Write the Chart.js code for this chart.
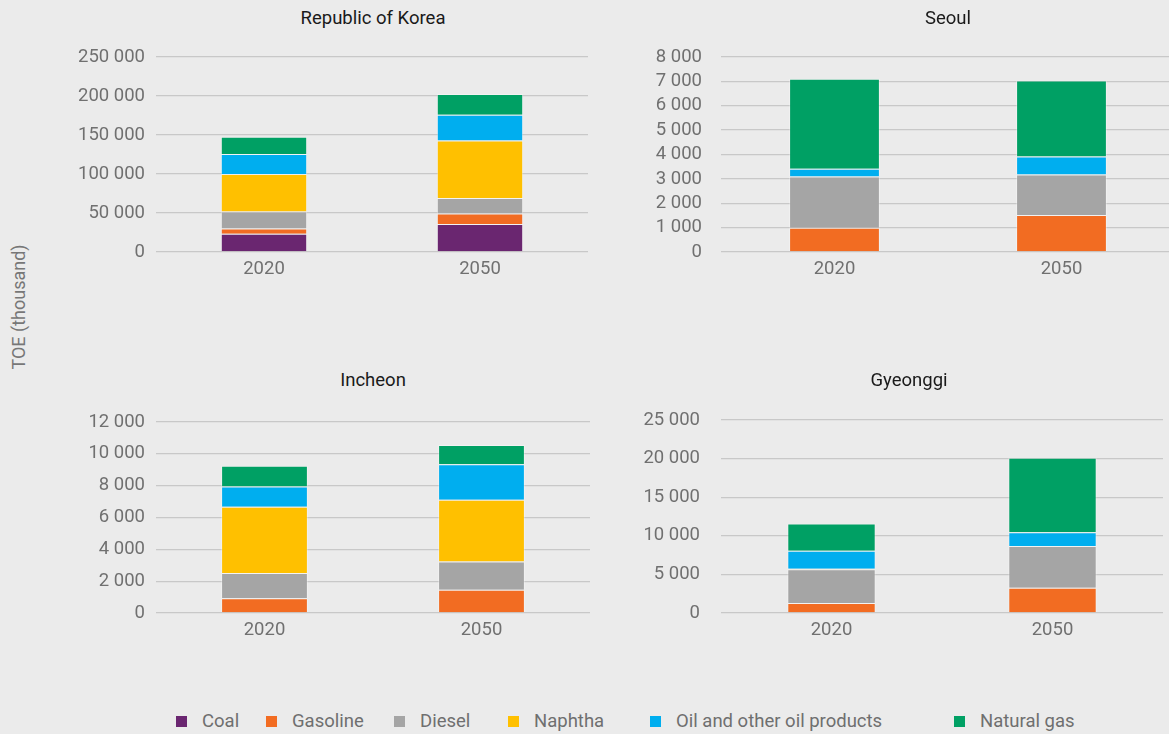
<!DOCTYPE html>
<html>
<head>
<meta charset="utf-8">
<script src="https://cdn.jsdelivr.net/npm/chart.js@4.4.0/dist/chart.umd.min.js"></script>
<style>
  html, body {
    margin: 0;
    padding: 0;
    background: #ebebeb;
    width: 1169px;
    height: 734px;
    overflow: hidden;
    position: relative;
    font-family: Roboto, sans-serif;
  }
  canvas { position: absolute; }
  .title {
    position: absolute;
    transform: translate(-50%, -50%);
    font-size: 18.5px;
    color: #1a1a1a;
    white-space: nowrap;
  }
  .ylabel {
    position: absolute;
    left: 18px;
    top: 307px;
    transform: translate(-50%, -50%) rotate(-90deg);
    font-size: 18px;
    color: #777777;
    white-space: nowrap;
  }
  .lg-box {
    position: absolute;
    width: 11px;
    height: 11px;
    top: 716px;
  }
  .lg-text {
    position: absolute;
    top: 720.5px;
    transform: translateY(-50%);
    font-size: 18.5px;
    color: #6f6f6f;
    white-space: nowrap;
  }
</style>
</head>
<body>
<div class="ylabel">TOE (thousand)</div>

<script>
const years = ['2020', '2050'];
const fuels = ['Coal', 'Gasoline', 'Diesel', 'Naphtha', 'Oil and other oil products', 'Natural gas'];
const fuelColors = ['#6a2670', '#f26c22', '#a5a5a5', '#ffc000', '#00aeef', '#00a064'];

// values per fuel, in the order of the fuels list
const korea2020 = [23500, 6700, 21800, 48000, 25600, 22200];
const korea2050 = [35900, 13600, 19700, 73900, 32900, 26600];
const seoul2020 = [0, 1000, 2100, 0, 320, 3690];
const seoul2050 = [0, 1520, 1660, 0, 740, 3120];
const incheon2020 = [0, 925, 1585, 4165, 1265, 1315];
const incheon2050 = [0, 1460, 1770, 3890, 2220, 1220];
const gyeonggi2020 = [0, 1300, 4370, 50, 2330, 3540];
const gyeonggi2050 = [0, 3280, 5410, 0, 1780, 9630];

// y axis ticks
const yMax = [250000, 8000, 12000, 25000];
const yStep = [50000, 1000, 2000, 5000];

// layout of the four panels (plot left, right, top, bottom)
const panels = [
  { title: 'Republic of Korea', a: korea2020, b: korea2050, plot: [156, 588, 57, 252], tickPad: 11, titleX: 373, titleY: 18 },
  { title: 'Seoul', a: seoul2020, b: seoul2050, plot: [721, 1175, 57, 252], tickPad: 19, titleX: 948, titleY: 18 },
  { title: 'Incheon', a: incheon2020, b: incheon2050, plot: [156, 590, 422, 613], tickPad: 11, titleX: 373, titleY: 380 },
  { title: 'Gyeonggi', a: gyeonggi2020, b: gyeonggi2050, plot: [721, 1163, 420, 613], tickPad: 21, titleX: 909, titleY: 380 }
];

const legendX = [176, 266, 394, 508, 650, 954];

const tickColor = '#707070';
const tickFont = { family: 'Roboto', size: 18.5 };

// thousands separated by a space: 250 000
function formatTick(v) {
  return String(v).replace(/\B(?=(\d{3})+(?!\d))/g, ' ');
}

function makeChart(p, idx) {
  const axisW = 110, axisH = 45;
  // Chart.js pads the top by half a label plus the tick padding
  const padTop = Math.ceil(tickFont.size * 0.6 + p.tickPad);
  const L = p.plot[0] - axisW;
  const T = p.plot[2] - padTop;
  const W = p.plot[1] - L;
  const H = p.plot[3] + axisH - T;

  const c = document.createElement('canvas');
  c.width = W;
  c.height = H;
  c.style.left = L + 'px';
  c.style.top = T + 'px';
  c.style.width = W + 'px';
  c.style.height = H + 'px';
  document.body.appendChild(c);

  const t = document.createElement('div');
  t.className = 'title';
  t.textContent = p.title;
  t.style.left = p.titleX + 'px';
  t.style.top = p.titleY + 'px';
  document.body.appendChild(t);

  new Chart(c, {
    type: 'bar',
    data: {
      labels: years,
      datasets: fuels.map((f, i) => ({
        label: f,
        data: [p.a[i], p.b[i]],
        backgroundColor: fuelColors[i],
        borderColor: 'rgba(255,255,255,0.35)',
        borderWidth: 1,
        categoryPercentage: 1,
        barPercentage: 0.4
      }))
    },
    options: {
      responsive: false,
      animation: false,
      layout: { padding: { top: padTop, left: 0, right: 0, bottom: 0 } },
      plugins: {
        legend: { display: false },
        title: { display: false },
        tooltip: { enabled: false }
      },
      scales: {
        x: {
          stacked: true,
          grid: { display: false, drawTicks: false },
          border: { display: false },
          ticks: { color: tickColor, font: tickFont, padding: 6 },
          afterFit: (s) => { s.height = axisH; }
        },
        y: {
          stacked: true,
          min: 0,
          max: yMax[idx],
          grid: { color: '#c8c8c8', lineWidth: 1.3, drawTicks: false },
          border: { display: false },
          ticks: {
            stepSize: yStep[idx],
            autoSkip: false,
            padding: p.tickPad,
            color: tickColor,
            font: tickFont,
            callback: formatTick
          },
          afterFit: (s) => { s.width = axisW; }
        }
      }
    }
  });
}

panels.forEach(makeChart);

// legend along the bottom
fuels.forEach((f, i) => {
  const box = document.createElement('div');
  box.className = 'lg-box';
  box.style.left = legendX[i] + 'px';
  box.style.background = fuelColors[i];
  document.body.appendChild(box);

  const txt = document.createElement('div');
  txt.className = 'lg-text';
  txt.style.left = (legendX[i] + 26) + 'px';
  txt.textContent = f;
  document.body.appendChild(txt);
});
</script>
</body>
</html>
